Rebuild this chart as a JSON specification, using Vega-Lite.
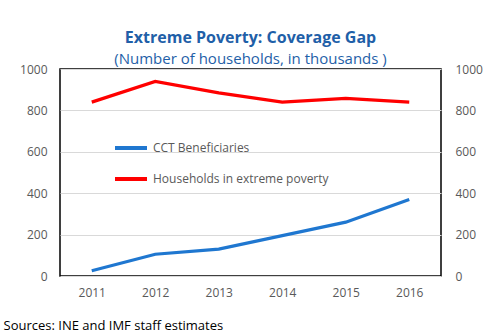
{
  "$schema": "https://vega.github.io/schema/vega-lite/v6.json",
  "width": 381,
  "height": 207,
  "autosize": {"type": "none"},
  "padding": {"left": 60, "top": 69, "right": 42, "bottom": 59},
  "background": "white",
  "title": {
    "text": "Extreme Poverty: Coverage Gap",
    "subtitle": "(Number of households, in thousands )",
    "anchor": "middle",
    "font": "Open Sans",
    "fontSize": 16,
    "fontWeight": "bold",
    "color": "#1F5FA8",
    "subtitleFont": "Open Sans",
    "subtitleFontSize": 15,
    "subtitleColor": "#1F5FA8",
    "subtitlePadding": 6,
    "offset": -4
  },
  "data": {
    "values": [
      {"year": "2011", "series": "CCT Beneficiaries", "value": 25},
      {"year": "2012", "series": "CCT Beneficiaries", "value": 105},
      {"year": "2013", "series": "CCT Beneficiaries", "value": 130},
      {"year": "2014", "series": "CCT Beneficiaries", "value": 195},
      {"year": "2015", "series": "CCT Beneficiaries", "value": 260},
      {"year": "2016", "series": "CCT Beneficiaries", "value": 370},
      {"year": "2011", "series": "Households in extreme poverty", "value": 840},
      {"year": "2012", "series": "Households in extreme poverty", "value": 940},
      {"year": "2013", "series": "Households in extreme poverty", "value": 885},
      {"year": "2014", "series": "Households in extreme poverty", "value": 840},
      {"year": "2015", "series": "Households in extreme poverty", "value": 858},
      {"year": "2016", "series": "Households in extreme poverty", "value": 840}
    ]
  },
  "layer": [
    {
      "mark": {"type": "line", "strokeWidth": 3.2},
      "encoding": {
        "x": {
          "field": "year", "type": "ordinal",
          "scale": {"type": "point", "padding": 0.5},
          "axis": {
            "labelAngle": 0, "ticks": false, "domain": false, "grid": false,
            "labelPadding": 11, "labelFont": "Open Sans", "labelFontSize": 12, "labelColor": "#595959",
            "title": "Sources: INE and IMF staff estimates",
            "titleFont": "Open Sans", "titleFontSize": 13, "titleFontWeight": "normal", "titleColor": "#000000",
            "titleAnchor": "start", "titleAlign": "left", "titleBaseline": "middle",
            "titleX": -57, "titleY": 49
          }
        },
        "y": {
          "field": "value", "type": "quantitative",
          "scale": {"domain": [0, 1000]},
          "axis": {
            "values": [0, 200, 400, 600, 800, 1000], "format": "d",
            "ticks": false, "domain": false, "grid": true, "gridColor": "#D9D9D9", "gridWidth": 1,
            "labelPadding": 13, "labelFont": "Open Sans", "labelFontSize": 12, "labelColor": "#595959",
            "title": null
          }
        },
        "color": {
          "field": "series", "type": "nominal",
          "scale": {"domain": ["CCT Beneficiaries", "Households in extreme poverty"], "range": ["#1F77D0", "#FF0000"]},
          "legend": {
            "orient": "none", "legendX": 53, "legendY": 61, "title": null,
            "symbolType": "stroke", "symbolStrokeWidth": 4, "symbolSize": 1024,
            "labelFont": "Open Sans", "labelFontSize": 12, "labelColor": "#595959", "labelLimit": 400,
            "rowPadding": 5, "labelOffset": 4
          }
        }
      }
    },
    {
      "mark": {"type": "line", "opacity": 0},
      "encoding": {
        "x": {"field": "year", "type": "ordinal", "scale": {"type": "point", "padding": 0.5}},
        "y": {
          "field": "value", "type": "quantitative",
          "axis": {
            "orient": "right", "values": [0, 200, 400, 600, 800, 1000], "format": "d",
            "ticks": false, "domain": false, "grid": false,
            "labelPadding": 14, "labelFont": "Open Sans", "labelFontSize": 12, "labelColor": "#595959",
            "title": null
          }
        },
        "detail": {"field": "series"}
      }
    }
  ],
  "resolve": {"axis": {"y": "independent"}},
  "config": {"view": {"stroke": "#000000", "strokeWidth": 1.5}}
}
